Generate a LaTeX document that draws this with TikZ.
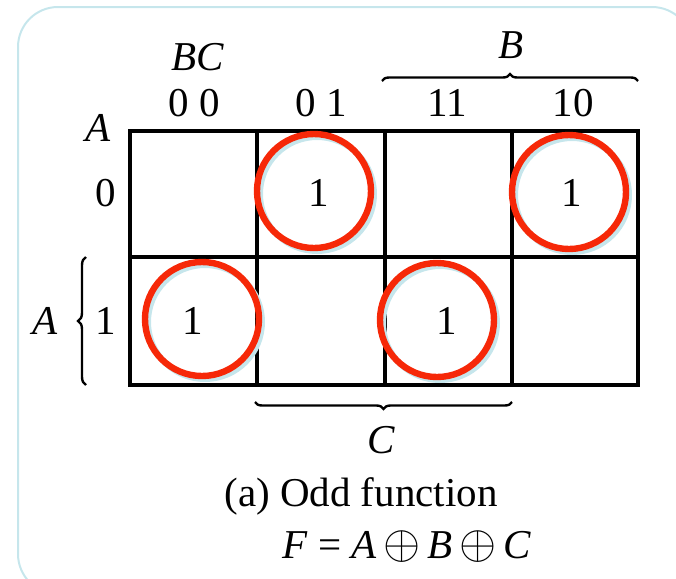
\documentclass[tikz,border=0pt]{standalone}
\usepackage{fontspec}
\usepackage{graphicx}
\setmainfont{Liberation Serif}
\usetikzlibrary{decorations.pathreplacing}
\definecolor{framecyan}{RGB}{198,230,236}
\definecolor{looped}{RGB}{246,40,8}
\newcommand{\xorop}{\,\smash{\scalebox{1.15}{$\oplus$}}\,}
\tikzset{every picture/.style={line width=0.75pt}}
\tikzset{
    kbrace/.style={decorate, decoration={brace, amplitude=#1}, line width=1.2pt},
    kloop/.style={circle, draw=looped, line width=3.2pt, minimum size=57pt, inner sep=0pt},
    kshadow/.style={circle, draw=framecyan, line width=3pt, minimum size=57pt, inner sep=0pt}
}

\begin{document}
\begin{tikzpicture}[x=0.5pt, y=-0.5pt, font=\rmfamily\fontsize{20.5}{24}\selectfont]
    \useasboundingbox (0,0) rectangle (676,579);
    \draw[color=framecyan, line width=1pt, rounded corners=20pt] (18,7) rectangle (692,594);
    % map grid
    \draw[line width=1.8pt] (130,131) rectangle (638,385);
    \foreach \x in {257,385,512} \draw[line width=1.6pt] (\x,131) -- (\x,385);
    \draw[line width=1.6pt] (130,257) -- (638,257);
    % loops
    \node[kshadow] (s01) at (317,194) {};
    \node[kshadow] (s03) at (572,195) {};
    \node[kshadow] (s10) at (205,322) {};
    \node[kshadow] (s12) at (440,323) {};
    \node[kloop] (o01) at (314,191) {};
    \node[kloop] (o03) at (569,192) {};
    \node[kloop] (o10) at (202,319) {};
    \node[kloop] (o12) at (437,320) {};
    \node (m01) at (319,193) {1};
    \node (m03) at (572,193) {1};
    \node (m10) at (193,321) {1};
    \node (m12) at (447,321) {1};
    % headings
    \node (bc) at (198,57) {\textit{BC}};
    \node (c00) at (194,103) {0 0};
    \node (c01) at (321,103) {0 1};
    \node (c11) at (447,103) {11};
    \node (c10) at (573,103) {10};
    \node (ahead) at (98,128) {\textit{A}};
    \node (r0) at (106,193) {0};
    \node (r1) at (106,321) {1};
    % braces
    \coordinate (bl) at (382,81);
    \coordinate (br) at (638,81);
    \draw[kbrace=3.5pt] (bl) -- (br);
    \node (bvar) at (511,45) {\textit{B}};
    \coordinate (cl) at (255,402);
    \coordinate (cr) at (512,402);
    \draw[kbrace=3.5pt] (cr) -- (cl);
    \node (cvar) at (381,440) {\textit{C}};
    \coordinate (at) at (86,257);
    \coordinate (ab) at (86,385);
    \draw[kbrace=4pt] (ab) -- (at);
    \node (avar) at (45,321) {\textit{A}};
    % caption
    \node (cap) at (361,496) {(a) Odd function};
    \node (fn) at (407,545) {\textit{F} = \textit{A}\xorop\textit{B}\xorop\textit{C}};
\end{tikzpicture}
\end{document}
